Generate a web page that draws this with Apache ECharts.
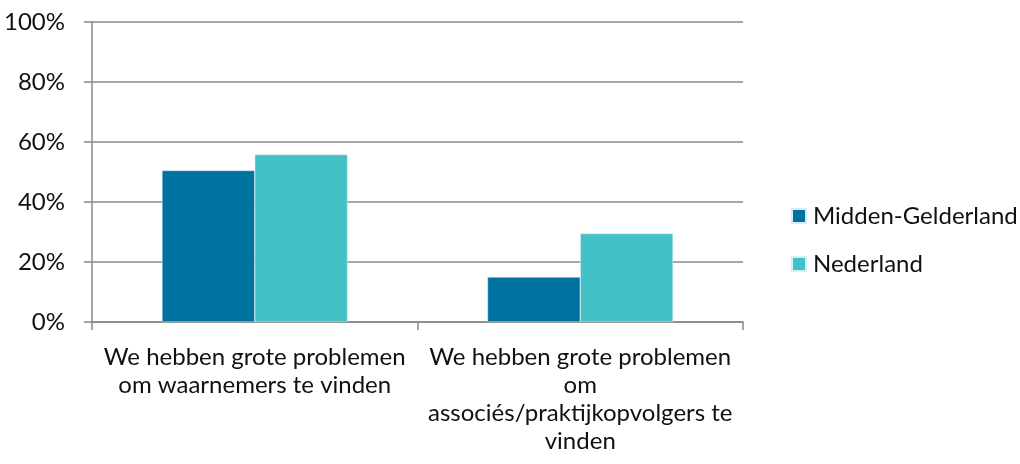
<!DOCTYPE html>
<html>
<head>
<meta charset="utf-8">
<script src="https://cdn.jsdelivr.net/npm/echarts@6/dist/echarts.min.js"></script>
<style>
html, body { margin: 0; padding: 0; background: #fff; }
#container { width: 1020px; height: 464px; }
</style>
</head>
<body>
<div id="container"></div>
<script>
var categories = [
    'We hebben grote problemen\nom waarnemers te vinden',
    'We hebben grote problemen\nom\nassociés/praktijkopvolgers te\nvinden'
];
var seriesNames = ['Midden-Gelderland', 'Nederland'];
var middenGelderland = [50.5, 15];
var nederland = [55.8, 29.5];
var yTicks = [0, 20, 40, 60, 80, 100];

var dom = document.getElementById('container');
var myChart = echarts.init(dom);
var font = 'Lato, "Open Sans", sans-serif';
var axisGray = '#888888';

var option = {
    animation: false,
    textStyle: { fontFamily: font },
    grid: { left: 92, right: 277, top: 22, bottom: 142 },
    legend: {
        orient: 'vertical',
        left: 786,
        top: 199,
        itemWidth: 14,
        itemHeight: 14,
        itemGap: 24,
        icon: 'rect',
        textStyle: { fontSize: 24, color: '#111', fontFamily: font, padding: [0, 0, 0, 2] },
        data: seriesNames
    },
    xAxis: {
        type: 'category',
        data: categories,
        axisLine: { lineStyle: { color: axisGray, width: 1.5 } },
        axisTick: { show: true, alignWithLabel: false, length: 8, lineStyle: { color: axisGray, width: 1.5 } },
        axisLabel: {
            interval: 0,
            fontSize: 24,
            color: '#111',
            lineHeight: 28,
            margin: 21,
            fontFamily: font
        }
    },
    yAxis: {
        type: 'value',
        min: 0,
        max: 100,
        interval: 20,
        axisLine: { show: true, lineStyle: { color: axisGray, width: 1.5 } },
        axisTick: { show: true, length: 8, lineStyle: { color: axisGray, width: 1.5 } },
        splitLine: { lineStyle: { color: axisGray, width: 1.5 } },
        axisLabel: {
            fontSize: 24,
            color: '#111',
            margin: 27,
            fontFamily: font,
            formatter: function (v) {
                return yTicks.indexOf(v) >= 0 ? v + '%' : '';
            }
        }
    },
    series: [
        {
            name: seriesNames[0],
            type: 'bar',
            data: middenGelderland,
            barGap: '0%',
            barCategoryGap: '43%',
            itemStyle: { color: '#00729f', borderColor: '#d6eef5', borderWidth: 0.5 }
        },
        {
            name: seriesNames[1],
            type: 'bar',
            data: nederland,
            itemStyle: { color: '#43c1c6', borderColor: '#d6eef5', borderWidth: 0.5 }
        }
    ]
};

myChart.setOption(option);
</script>
</body>
</html>
